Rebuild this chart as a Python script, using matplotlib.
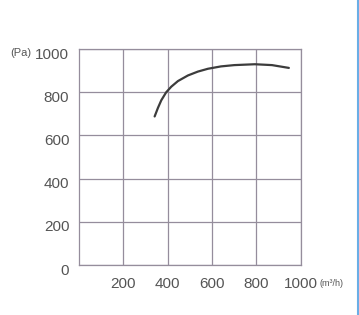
import matplotlib.pyplot as plt
import matplotlib.transforms as mtransforms
from matplotlib.lines import Line2D

# curve
flow = [341, 356, 371, 393, 416, 446, 491, 536, 581, 640, 700, 793, 870, 946]
pressure = [688, 728, 763, 800, 826, 852, 878, 896, 909, 920, 926, 930, 926, 913]

x_ticks = [200, 400, 600, 800, 1000]
y_ticks = [0, 200, 400, 600, 800, 1000]

plt.rcParams['font.family'] = ['Liberation Sans', 'DejaVu Sans']

fig = plt.figure(figsize=(3.59, 3.15), dpi=100)
ax = fig.add_axes([0.220, 0.159, 0.618, 0.685])

grid_col = '#958d9c'
ax.plot(flow, pressure, color='#3c3c3c', lw=1.6, solid_capstyle='round',
        solid_joinstyle='round')

ax.set_xlim(0, 1000)
ax.set_ylim(0, 1000)
ax.set_xticks(x_ticks)
ax.set_yticks(y_ticks)
ax.grid(True, color=grid_col, lw=0.9)
for s in ax.spines.values():
    s.set_color(grid_col)
    s.set_linewidth(0.9)
ax.tick_params(length=0, labelsize=11, labelcolor='#555555')
ax.tick_params(axis='y', pad=7)
ax.tick_params(axis='x', pad=9)

# y labels sit a bit below their grid lines in the original
off = mtransforms.ScaledTranslation(0, -3 / 72, fig.dpi_scale_trans)
for lab in ax.get_yticklabels():
    lab.set_transform(lab.get_transform() + off)

fig.text(10 / 359, 1 - 53 / 315, '(Pa)', fontsize=8, color='#555555', va='center')
fig.text(319 / 359, 1 - 283 / 315, '(m³/h)', fontsize=6.5, color='#555555', va='center')

fig.add_artist(Line2D([358 / 359, 358 / 359], [0, 1], color='#6aaee6', lw=1.5,
                      transform=fig.transFigure))

fig.savefig('out.png', dpi=100)
